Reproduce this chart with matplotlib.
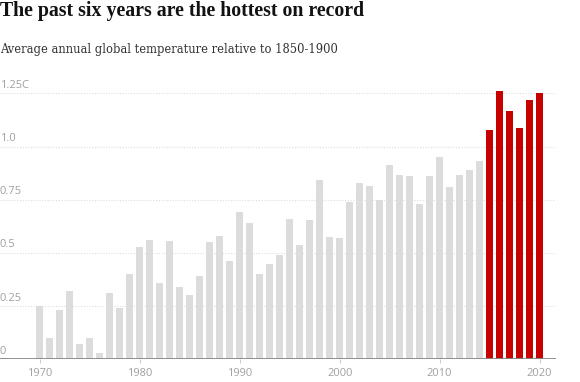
import numpy as np
import matplotlib
matplotlib.use("Agg")
import matplotlib.pyplot as plt
import matplotlib.transforms as mtransforms

# Average annual global temperature relative to 1850-1900 (C)
years = list(range(1970, 2021))
anomaly = [
    0.25, 0.10, 0.23, 0.32, 0.07, 0.10, 0.03, 0.31, 0.24, 0.40,  # 1970s
    0.53, 0.56, 0.36, 0.555, 0.34, 0.30, 0.39, 0.55, 0.58, 0.46,  # 1980s
    0.69, 0.64, 0.40, 0.45, 0.49, 0.66, 0.535, 0.655, 0.845, 0.575,  # 1990s
    0.57, 0.74, 0.83, 0.815, 0.75, 0.915, 0.865, 0.86, 0.73, 0.86,  # 2000s
    0.95, 0.81, 0.865, 0.89, 0.93,  # 2010-2014
    1.08, 1.26, 1.165, 1.085, 1.22, 1.25,  # 2015-2020
]
hot_from = 2015
ytick_vals = [0, 0.25, 0.5, 0.75, 1.0, 1.25]
ytick_labels = ["0", "0.25", "0.5", "0.75", "1.0", "1.25C"]
xtick_vals = [1970, 1980, 1990, 2000, 2010, 2020]

title = "The past six years are the hottest on record"
subtitle = "Average annual global temperature relative to 1850-1900"

GREY_BAR = "#dcdcdc"
RED = "#c70000"
LABEL = "#a0a0a0"

fig = plt.figure(figsize=(5.8, 3.82), dpi=100)
ax = fig.add_axes([0.0, 0.0594, 556 / 580, 0.7241])

colors = [RED if y >= hot_from else GREY_BAR for y in years]
ax.bar(years, anomaly, width=0.7, color=colors, zorder=2)

ax.set_xlim(1966.0, 2021.65)
ax.set_ylim(0, 1.30)

# dotted gridlines with labels sitting on top of them
for v in ytick_vals:
    if v > 0:
        ax.axhline(v, color="#dddddd", lw=0.8, ls=(0, (1, 1.5)), zorder=1)
trans = mtransforms.blended_transform_factory(ax.transAxes, ax.transData)
for v, lab in zip(ytick_vals, ytick_labels):
    ax.text(0.0, v + 0.012, lab, transform=trans, ha="left", va="bottom",
            fontsize=8, color=LABEL, family="Open Sans", zorder=3)

ax.axhline(0, color="#888888", lw=1.3, zorder=3)

ax.set_yticks([])
ax.set_xticks(xtick_vals)
ax.set_xticklabels([str(x) for x in xtick_vals], family="Open Sans",
                   fontsize=8, color=LABEL)
ax.tick_params(axis="x", length=3, width=0.8, color="#cccccc", pad=3)
for s in ax.spines.values():
    s.set_visible(False)

fig.text(0.0, 1 - 1 / 382, title, ha="left", va="top", fontsize=14.3,
         fontweight="bold", family="Liberation Serif", color="#121212")
fig.text(0.0, 1 - 43 / 382, subtitle, ha="left", va="top", fontsize=8.3,
         family="DejaVu Serif", color="#333333")

fig.savefig("out.png", dpi=100)
